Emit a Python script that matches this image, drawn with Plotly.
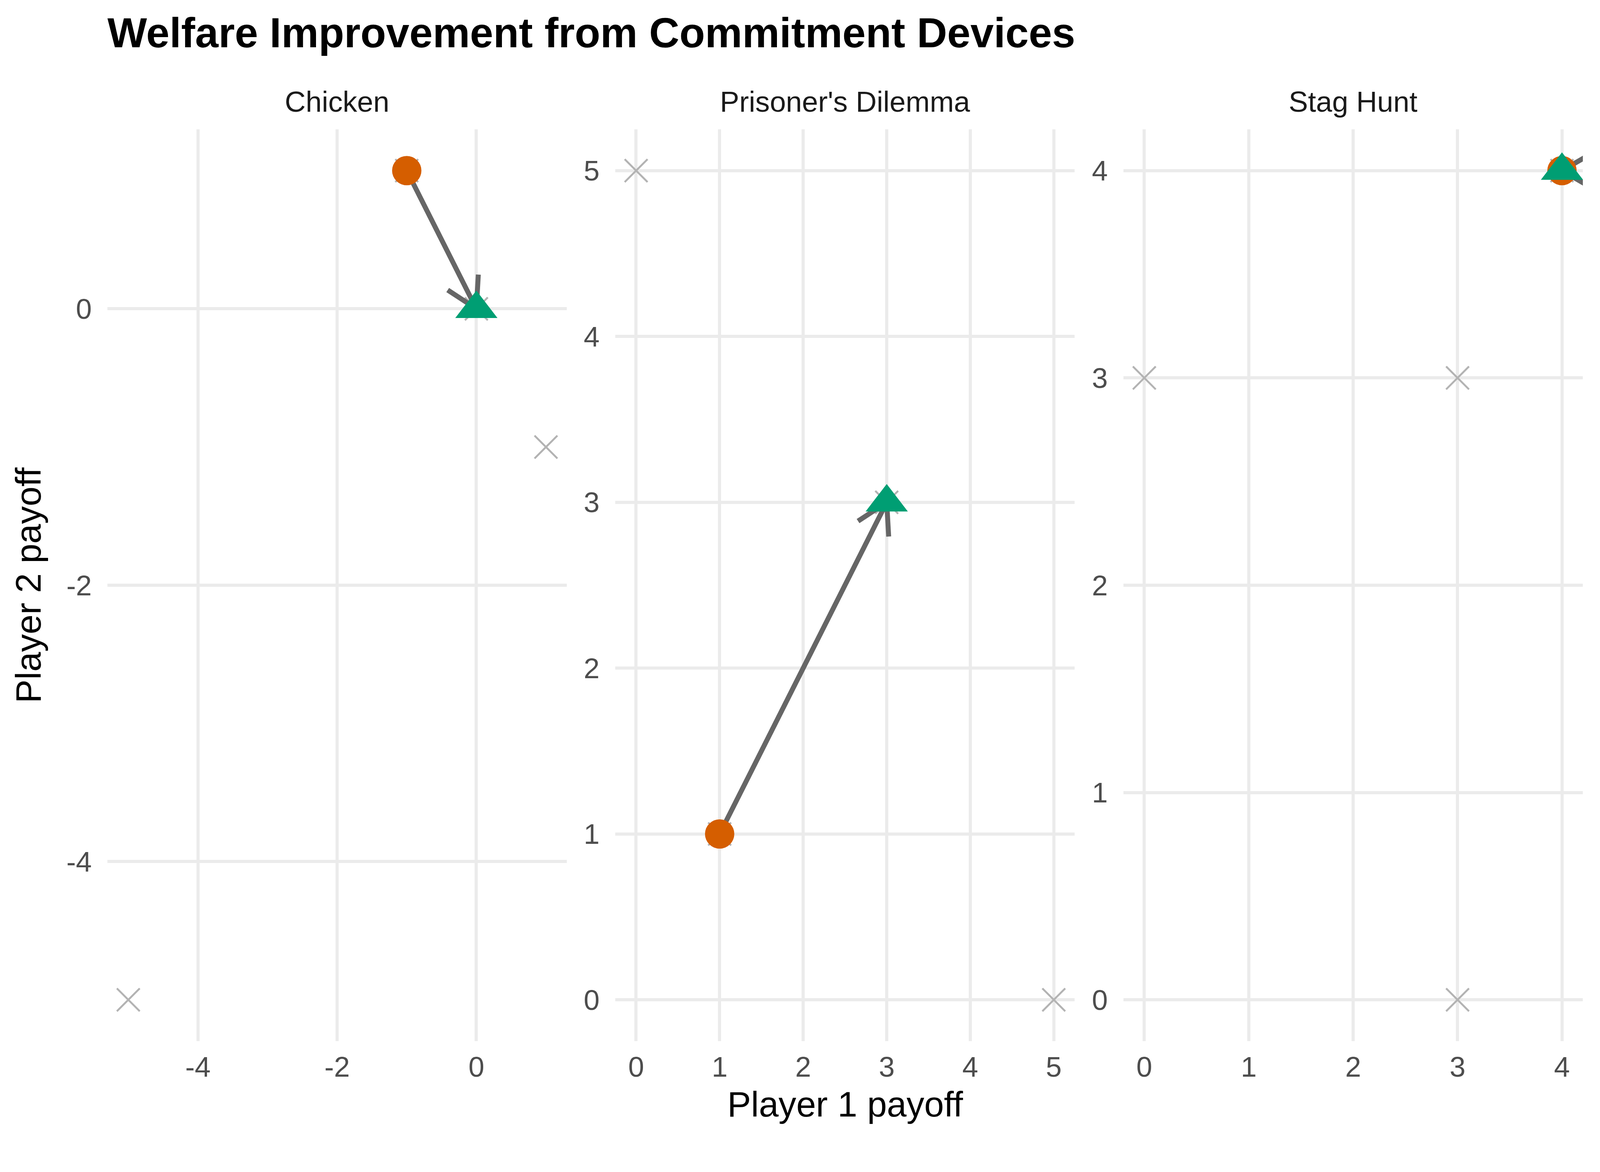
import math
import plotly.graph_objects as go

games = ["Chicken", "Prisoner's Dilemma", "Stag Hunt"]

# every pure-strategy outcome (player 1 payoff, player 2 payoff)
chicken_p1 = [0, -1, 1, -5]
chicken_p2 = [0, 1, -1, -5]
pd_p1 = [3, 0, 5, 1]
pd_p2 = [3, 5, 0, 1]
stag_p1 = [4, 0, 3, 3]
stag_p2 = [4, 3, 0, 3]

# equilibrium outcome without / with the commitment device
baseline_p1 = [-1, 1, 4]
baseline_p2 = [1, 1, 4]
commit_p1 = [0, 3, 4]
commit_p2 = [0, 3, 4]

tick_step = [2, 1, 1]

outcomes = [(chicken_p1, chicken_p2), (pd_p1, pd_p2), (stag_p1, stag_p2)]

# geometry is laid out in target-image pixels (4200x3000); the browser
# viewport is ~4096 css px wide and the body has an 8px margin
S = 4096 / 4200
OFF = 8
W = round(4200 * S) - 2 * OFF
H = round(3000 * S) - 2 * OFF
panel_left = [282, 1615, 2949]
panel_w = 1206
panel_top, panel_bottom = 339, 2733

ORANGE = "#D55E00"
GREEN = "#009E73"
ARROW = "#666666"
FONT = "Liberation Sans"


def px(x):
    return (x * S - OFF) / W


def py(y):
    return 1 - (y * S - OFF) / H


def sz(v):
    return v * S


def padded(vals):
    lo, hi = min(vals), max(vals)
    pad = 0.05 * (hi - lo)
    return [lo - pad, hi + pad]


fig = go.Figure()
layout = {}
annotations = []
ranges = []

for i, game in enumerate(games):
    p1, p2 = outcomes[i]
    xr = padded(p1 + [baseline_p1[i], commit_p1[i]])
    yr = padded(p2 + [baseline_p2[i], commit_p2[i]])
    ranges.append((xr, yr))
    step = tick_step[i]

    def ticks(r):
        v = math.ceil(r[0] / step) * step
        out = []
        while v <= r[1]:
            out.append(v)
            v += step
        return out

    xt, yt = ticks(xr), ticks(yr)
    sfx = "" if i == 0 else str(i + 1)
    common = dict(
        showgrid=True, gridcolor="#EBEBEB", gridwidth=sz(8),
        zeroline=False, showline=False, ticks="",
        tickfont=dict(family=FONT, size=sz(75), color="#4D4D4D"),
    )
    layout["xaxis" + sfx] = dict(
        domain=[px(panel_left[i]), px(panel_left[i] + panel_w)],
        range=xr, tickvals=xt, ticktext=[str(v) for v in xt],
        anchor="y" + sfx, ticklabelstandoff=round(sz(17)), **common)
    layout["yaxis" + sfx] = dict(
        domain=[py(panel_bottom), py(panel_top)],
        range=yr, tickvals=yt, ticktext=[str(v) for v in yt],
        anchor="x" + sfx, ticklabelstandoff=round(sz(40)), **common)

    annotations.append(dict(
        text=game, xref="paper", yref="paper",
        x=px(panel_left[i] + panel_w / 2), y=py(312),
        xanchor="center", yanchor="bottom", showarrow=False,
        font=dict(family=FONT, size=sz(76), color="#1A1A1A")))

# layer 1: all outcomes as grey crosses
for i in range(3):
    sfx = "" if i == 0 else str(i + 1)
    p1, p2 = outcomes[i]
    fig.add_trace(go.Scatter(
        x=p1, y=p2, mode="markers", xaxis="x" + sfx, yaxis="y" + sfx,
        marker=dict(symbol="x-thin", size=sz(60), color="#B3B3B3",
                    line=dict(width=sz(5), color="#B3B3B3")),
        showlegend=False, hoverinfo="skip"))

# layer 2: arrows from baseline to commitment outcome
head_len, head_angle = 90, math.radians(30)
for i in range(3):
    sfx = "" if i == 0 else str(i + 1)
    xr, yr = ranges[i]
    ppx = panel_w / (xr[1] - xr[0])
    ppy = (panel_bottom - panel_top) / (yr[1] - yr[0])
    x0, y0 = baseline_p1[i], baseline_p2[i]
    x1, y1 = commit_p1[i], commit_p2[i]
    vx, vy = (x1 - x0) * ppx, (y1 - y0) * ppy
    back = math.atan2(vy, vx) + math.pi if (vx or vy) else 0.0
    arms_x, arms_y = [], []
    for s in (-1, 1):
        a = back + s * head_angle
        arms_x.append(x1 + head_len * math.cos(a) / ppx)
        arms_y.append(y1 + head_len * math.sin(a) / ppy)
    fig.add_trace(go.Scatter(
        x=[x0, x1, None, arms_x[0], x1, arms_x[1]],
        y=[y0, y1, None, arms_y[0], y1, arms_y[1]],
        mode="lines", xaxis="x" + sfx, yaxis="y" + sfx,
        line=dict(color=ARROW, width=sz(13)),
        showlegend=False, hoverinfo="skip"))

# layer 3/4: baseline (circle) and commitment (triangle) outcomes
for i in range(3):
    sfx = "" if i == 0 else str(i + 1)
    fig.add_trace(go.Scatter(
        x=[baseline_p1[i]], y=[baseline_p2[i]], mode="markers",
        xaxis="x" + sfx, yaxis="y" + sfx,
        marker=dict(symbol="circle", size=sz(77), color=ORANGE, line=dict(width=0)),
        name="Without commitment", showlegend=False))
for i in range(3):
    sfx = "" if i == 0 else str(i + 1)
    fig.add_trace(go.Scatter(
        x=[commit_p1[i]], y=[commit_p2[i]], mode="markers",
        xaxis="x" + sfx, yaxis="y" + sfx,
        marker=dict(symbol="triangle-up", size=sz(96), color=GREEN, line=dict(width=0)),
        name="With commitment", showlegend=False))

annotations.append(dict(
    text="Player 1 payoff", xref="paper", yref="paper",
    x=px((panel_left[0] + panel_left[2] + panel_w) / 2), y=py(2952),
    xanchor="center", yanchor="bottom", showarrow=False,
    font=dict(family=FONT, size=sz(93), color="black")))
annotations.append(dict(
    text="Player 2 payoff", xref="paper", yref="paper", textangle=-90,
    x=px(21), y=py((panel_top + panel_bottom) / 2),
    xanchor="left", yanchor="middle", showarrow=False,
    font=dict(family=FONT, size=sz(93), color="black")))

fig.update_layout(
    width=W, height=H,
    margin=dict(l=0, r=0, t=0, b=0),
    paper_bgcolor="white", plot_bgcolor="white",
    title=dict(text="<b>Welfare Improvement from Commitment Devices</b>",
               x=px(panel_left[0]), xanchor="left",
               y=py(47), yanchor="top", yref="container",
               font=dict(family=FONT, size=sz(110), color="black")),
    annotations=annotations,
    showlegend=False,
    **layout,
)

fig.write_html("out.html")
